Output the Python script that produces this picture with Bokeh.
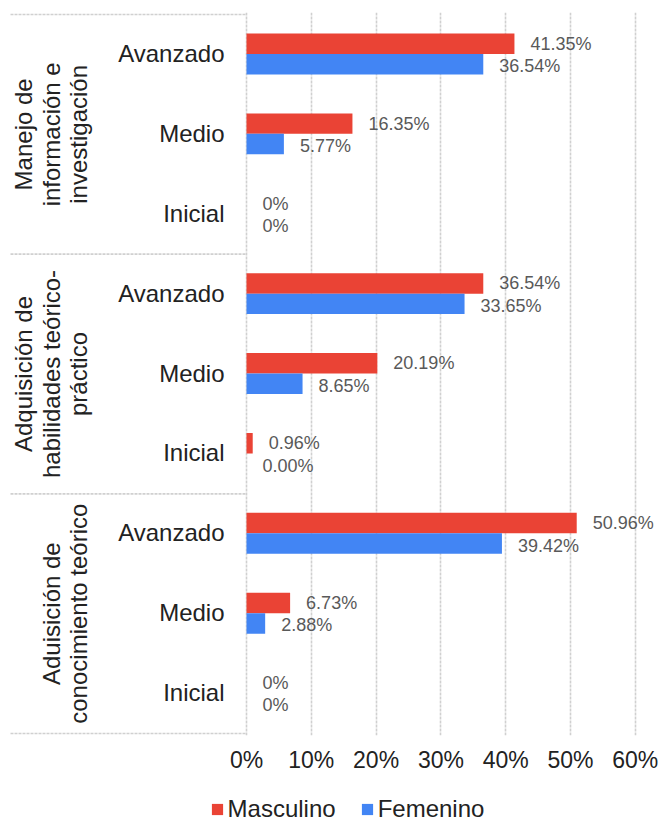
import math

from bokeh.plotting import figure
from bokeh.layouts import column
from bokeh.models import (ColumnDataSource, Range1d, FixedTicker, PrintfTickFormatter,
                          Legend, LegendItem)
from bokeh.core.properties import value
from bokeh.embed import file_html
from bokeh.resources import INLINE

# ---- data -------------------------------------------------------------
groups = [
    "Manejo de\ninformación e\ninvestigación",
    "Adquisición de\nhabilidades teórico-\npráctico",
    "Aduisición de\nconocimiento teórico",
]
levels = ["Avanzado", "Medio", "Inicial"]
series = ["Masculino", "Femenino"]

masculino = [41.35, 16.35, 0, 36.54, 20.19, 0.96, 50.96, 6.73, 0]
femenino = [36.54, 5.77, 0, 33.65, 8.65, 0.00, 39.42, 2.88, 0]
masculino_labels = ["41.35%", "16.35%", "0%", "36.54%", "20.19%", "0.96%", "50.96%", "6.73%", "0%"]
femenino_labels = ["36.54%", "5.77%", "0%", "33.65%", "8.65%", "0.00%", "39.42%", "2.88%", "0%"]

x_ticks = [0, 10, 20, 30, 40, 50, 60]

# ---- layout constants -------------------------------------------------
FONT = "Liberation Sans"
RED = "#EA4335"
BLUE = "#4285F4"
W = 662
CHART_H, LEGEND_H = 775, 48
PX_PER_UNIT = 6.48          # pixels per percentage point
ZERO_PX = 246               # screen x of the 0% line
TOP, BOTTOM_BORDER = 12, 40
n_rows = len(groups) * len(levels)
pad = 0.025                 # a little room so the outer rules are not clipped

x_start = -ZERO_PX / PX_PER_UNIT
x_end = (W - ZERO_PX) / PX_PER_UNIT

p = figure(width=W, height=CHART_H, output_backend="svg", toolbar_location=None,
           x_range=Range1d(x_start, x_end), y_range=Range1d(n_rows + pad, -pad),
           y_axis_location=None, min_border_left=0, min_border_right=0,
           min_border_top=TOP, min_border_bottom=BOTTOM_BORDER,
           background_fill_color="white", border_fill_color="white")
p.outline_line_color = None
p.ygrid.visible = False

# x axis with percentage ticks
ax = p.xaxis[0]
ax.ticker = FixedTicker(ticks=x_ticks)
ax.formatter = PrintfTickFormatter(format="%d%%")
ax.axis_line_color = None
ax.major_tick_line_color = None
ax.minor_tick_line_color = None
ax.major_label_text_font = FONT
ax.major_label_text_font_size = "23px"
ax.major_label_text_color = "#222222"
ax.major_label_standoff = 5

p.xgrid.ticker = FixedTicker(ticks=x_ticks)
p.xgrid.grid_line_color = "#d0d0d0"
p.xgrid.grid_line_width = 1.6
p.xgrid.grid_line_dash = "3 1"

# ---- bars -------------------------------------------------------------
bar_h = 0.256
rows = list(range(n_rows))
src = ColumnDataSource(dict(
    y_m=[r + 0.366 for r in rows],
    y_f=[r + 0.622 for r in rows],
    masculino=masculino, femenino=femenino,
    lab_m=masculino_labels, lab_f=femenino_labels,
))

p.hbar(y="y_m", left=0, right="masculino", height=bar_h, source=src,
       fill_color=RED, line_color=None)
p.hbar(y="y_f", left=0, right="femenino", height=bar_h, source=src,
       fill_color=BLUE, line_color=None)

# value labels
p.text(x="masculino", y="y_m", text="lab_m", source=src, x_offset=16,
       text_baseline="middle", text_align="left", text_font=value(FONT),
       text_font_size="18px", text_color="#595959")
p.text(x="femenino", y="y_f", text="lab_f", source=src, x_offset=16, y_offset=2,
       text_baseline="middle", text_align="left", text_font=value(FONT),
       text_font_size="18px", text_color="#595959")

# ---- category labels --------------------------------------------------
cat_src = ColumnDataSource(dict(
    x=[0] * n_rows,
    y=[r + 0.5 for r in rows],
    text=[levels[r % len(levels)] for r in rows],
))
p.text(x="x", y="y", text="text", source=cat_src, x_offset=-22, y_offset=-1,
       text_align="right", text_baseline="middle", text_font=value(FONT),
       text_font_size="24px", text_color="#222222")

# group labels, rotated
grp_src = ColumnDataSource(dict(
    x=[0] * len(groups),
    y=[g * len(levels) + len(levels) / 2 for g in range(len(groups))],
    text=groups,
))
p.text(x="x", y="y", text="text", source=grp_src, x_offset=92 - ZERO_PX,
       angle=math.pi / 2, text_align="center", text_baseline="bottom",
       text_font=value(FONT), text_font_size="24px", text_color="#222222",
       text_line_height=1.02)

# horizontal rules between groups
bounds = [g * len(levels) for g in range(len(groups) + 1)]
rule_x0 = x_start + 10 / PX_PER_UNIT
p.segment(x0=[rule_x0] * len(bounds), x1=[0] * len(bounds), y0=bounds, y1=bounds,
          line_color="#d0d0d0", line_width=1.6, line_dash="3 1")

# ---- legend strip -----------------------------------------------------
lg = figure(width=W, height=LEGEND_H, output_backend="svg", toolbar_location=None,
            x_axis_location=None, y_axis_location=None,
            x_range=Range1d(0, 1), y_range=Range1d(0, 1),
            min_border=0, background_fill_color="white", border_fill_color="white")
lg.outline_line_color = None
lg.grid.visible = False
# zero-width keys: only their legend swatches are seen
key_src = ColumnDataSource(dict(y=[0.5], right=[0]))
key_m = lg.hbar(y="y", left=0, right="right", height=0.1, source=key_src,
                fill_color=RED, line_color=None)
key_f = lg.hbar(y="y", left=0, right="right", height=0.1, source=key_src,
                fill_color=BLUE, line_color=None)

legend = Legend(items=[LegendItem(label=series[0], renderers=[key_m]),
                       LegendItem(label=series[1], renderers=[key_f])],
                orientation="horizontal", location=(209.6, 0),
                glyph_width=14, glyph_height=14, label_standoff=4, spacing=24,
                padding=0, margin=0, border_line_color=None,
                background_fill_alpha=0,
                label_text_font=FONT, label_text_font_size="24px",
                label_text_color="#222222")
lg.add_layout(legend, "center")

layout = column(p, lg, spacing=0)
open("out.html", "w").write(file_html(layout, INLINE))
